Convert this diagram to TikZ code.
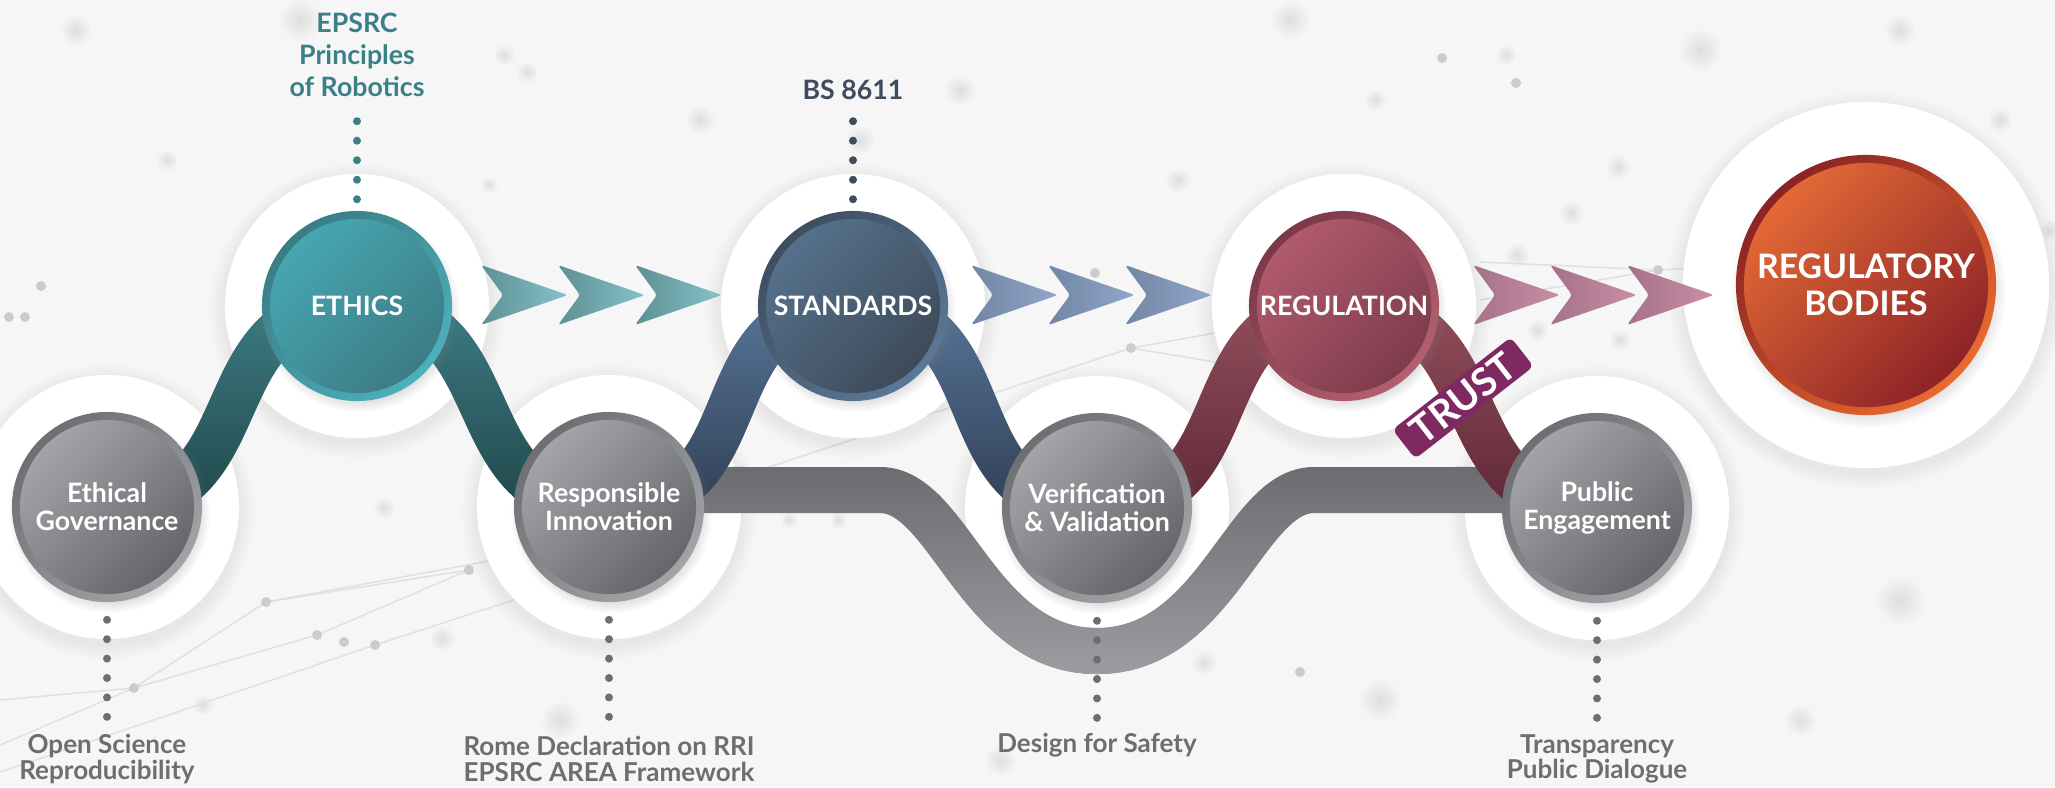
\documentclass[tikz,border=0pt]{standalone}
\usepackage{fontspec}
\setmainfont{Lato}
\usetikzlibrary{backgrounds,shadows,fadings}

\definecolor{bgCol}{HTML}{F6F6F7}
\definecolor{grayRimA}{HTML}{6E6F72}
\definecolor{grayRimB}{HTML}{A3A4A7}
\definecolor{grayA}{HTML}{A6A7AA}
\definecolor{grayB}{HTML}{626366}
\definecolor{tealRimA}{HTML}{3A7C84}
\definecolor{tealRimB}{HTML}{4DB0BB}
\definecolor{tealA}{HTML}{47A8B3}
\definecolor{tealB}{HTML}{3C7A83}
\definecolor{slateRimA}{HTML}{3D4E60}
\definecolor{slateRimB}{HTML}{5B7897}
\definecolor{slateA}{HTML}{57728E}
\definecolor{slateB}{HTML}{3C4957}
\definecolor{roseRimA}{HTML}{7C3849}
\definecolor{roseRimB}{HTML}{B3606F}
\definecolor{roseA}{HTML}{B35C6D}
\definecolor{roseB}{HTML}{7B3A4C}
\definecolor{rustRimA}{HTML}{8A2325}
\definecolor{rustRimB}{HTML}{EA6A2F}
\definecolor{rustA}{HTML}{E66B37}
\definecolor{rustB}{HTML}{8A2126}
\definecolor{grayBand}{HTML}{6C6D70}
\definecolor{grayBandLight}{HTML}{9C9DA0}
\definecolor{tealRib}{HTML}{1F4447}
\definecolor{tealRibLight}{HTML}{3F8087}
\definecolor{slateRib}{HTML}{2D3B4F}
\definecolor{slateRibLight}{HTML}{5A799D}
\definecolor{roseRib}{HTML}{5B2535}
\definecolor{roseRibLight}{HTML}{96525F}
\definecolor{tealChevA}{HTML}{5E8F93}
\definecolor{tealChevB}{HTML}{84C4CA}
\definecolor{slateChevA}{HTML}{7086A3}
\definecolor{slateChevB}{HTML}{93A6CA}
\definecolor{roseChevA}{HTML}{A4718A}
\definecolor{roseChevB}{HTML}{CA90A5}
\definecolor{trustCol}{HTML}{7E2961}
\definecolor{tealText}{HTML}{3B8088}
\definecolor{slateText}{HTML}{3E4C5C}
\definecolor{grayText}{HTML}{6D6E71}

\tikzfading[name=fade_down, top color=transparent!0, bottom color=transparent!100]
\tikzfading[name=fade_up, top color=transparent!100, bottom color=transparent!0]

\begin{document}
\begin{tikzpicture}[x=0.01cm, y=-0.01cm,
  disc/.style n args={5}{circle, minimum size=1.9cm, inner sep=0pt, align=center, text=white,
    font=\bfseries\fontsize{7.6}{8}\selectfont,
    circular drop shadow={shadow xshift=0.02cm, shadow yshift=-0.05cm, shadow scale=1.06, opacity=0.3},
    top color=#1, bottom color=#2, shading angle=45,
    path picture={\shade[top color=#3, bottom color=#4, shading angle=45]
      (path picture bounding box.center) circle (#5);}},
  gray_node/.style={disc={grayRimA}{grayRimB}{grayA}{grayB}{0.87cm}},
  ethics_node/.style={disc={tealRimA}{tealRimB}{tealA}{tealB}{0.87cm}},
  standards_node/.style={disc={slateRimA}{slateRimB}{slateA}{slateB}{0.87cm}},
  regulation_node/.style={disc={roseRimA}{roseRimB}{roseA}{roseB}{0.87cm}},
  bodies_node/.style={disc={rustRimA}{rustRimB}{rustA}{rustB}{1.22cm}, minimum size=2.6cm,
    font=\bfseries\fontsize{9.6}{10.5}\selectfont},
  top_lbl/.style={align=center, inner sep=0pt, font=\bfseries\fontsize{7.6}{9.1}\selectfont},
  bot_lbl/.style={align=center, inner sep=0pt, text=grayText, font=\bfseries\fontsize{7.4}{7.3}\selectfont},
  dot_line/.style={line width=0.08cm, line cap=round, dash pattern=on 0pt off 0.195cm},
  ribbon/.style={line width=0.46cm},
  net_line/.style={black!12, line width=0.015cm},
  trust_tag/.style={rectangle, rounded corners=0.06cm, fill=trustCol, text=white, rotate=38,
    minimum width=1.5cm, minimum height=0.37cm, inner sep=0pt,
    font=\bfseries\fontsize{11}{11}\selectfont}]

  \useasboundingbox (0,0) rectangle (2055,787);

  % the circles
  \node[gray_node] (eg) at (107,507) {Ethical\\Governance};
  \node[ethics_node] (ethics) at (357,306) {ETHICS};
  \node[gray_node] (ri) at (609,507) {Responsible\\Innovation};
  \node[standards_node] (standards) at (853,306) {STANDARDS};
  \node[gray_node] (vv) at (1097,508) {Verification\\\& Validation};
  \node[regulation_node] (regulation) at (1344,306) {REGULATION};
  \node[gray_node] (pe) at (1597,508) {Public\\Engagement};
  \node[bodies_node] (rb) at (1866,285) {REGULATORY\\BODIES};

  \begin{scope}[on background layer]
    \fill[bgCol] (0,0) rectangle (2055,787);
    % blurred background dots
    \foreach \bx/\by/\br in {76/30/16, 167/160/11, 504/55/11, 527/72/11, 489/185/9, 1376/100/11,
        1178/180/13, 1506/55/11, 1375/100/11, 1571/213/13, 1517/255/13, 1618/167/13, 1537/330/11,
        1620/340/11, 2050/230/11, 960/90/16, 1290/20/20, 300/20/22, 700/120/15, 860/140/15,
        1700/50/22, 1900/30/16, 2000/120/13, 384/508/11, 203/705/11, 442/638/13, 789/520/9,
        838/520/9, 1204/663/13, 1700/560/22, 1900/600/26, 1380/700/22, 1800/720/16, 560/720/20,
        1000/760/16, 1060/550/12}
      \shade[inner color=black!13, outer color=bgCol] (\bx,\by) circle[radius=0.01cm*\br];
    % network lines
    \draw[net_line] (0,745) -- (134,688) -- (317,635) -- (469,570);
    \draw[net_line] (0,700) -- (134,688) -- (266,602) -- (469,570);
    \draw[net_line] (0,772) -- (375,645) -- (560,585);
    \draw[net_line] (266,602) -- (560,548);
    \draw[net_line] (760,470) -- (1131,348) -- (1215,333);
    \draw[net_line] (1131,348) -- (1215,362);
    \draw[net_line] (1480,262) -- (1658,270) -- (1790,262);
    \draw[net_line] (1480,300) -- (1658,270);
    \foreach \bx/\by in {134/688, 317/635, 344/642, 375/645, 266/602, 469/570, 1131/348,
        1658/270, 41/286, 9/317, 25/317, 1442/58, 1516/83, 1095/273, 1300/672}
      \fill[black!20] (\bx,\by) circle[radius=0.05cm];
    % white halos
    \foreach \n/\r in {eg/1.32, ethics/1.32, ri/1.32, standards/1.32, vv/1.32,
        regulation/1.32, pe/1.32, rb/1.83}{
      \foreach \k in {1,...,5}
        \fill[black, opacity=0.012] ([yshift=-0.05cm]\n.center) circle[radius=\r*1cm+\k*0.03cm];
      \fill[white] (\n.center) circle[radius=\r*1cm];
    }
    % gray band
    \draw[ribbon, grayBand, postaction={draw, grayBandLight, path fading=fade_up}]
      ([yshift=0.17cm]ri.center) -- (880,490)
      .. controls +(70,0) and +(-120,0) .. (1097,651)
      .. controls +(120,0) and +(-70,0) .. (1314,490) -- ([yshift=0.18cm]pe.center);
    % coloured ribbons
    \draw[ribbon, tealRib, postaction={draw, tealRibLight, path fading=fade_down}]
      (eg.center) .. controls +(160,0) and +(-160,0) .. (ethics.center)
      .. controls +(160,0) and +(-160,0) .. (ri.center);
    \draw[ribbon, slateRib, postaction={draw, slateRibLight, path fading=fade_down}]
      (ri.center) .. controls +(160,0) and +(-160,0) .. (standards.center)
      .. controls +(160,0) and +(-160,0) .. (vv.center);
    \draw[ribbon, roseRib, postaction={draw, roseRibLight, path fading=fade_down}]
      (vv.center) .. controls +(160,0) and +(-160,0) .. (regulation.center)
      .. controls +(160,0) and +(-160,0) .. (pe.center);
  \end{scope}

  % chevrons
  \foreach \sx/\ca/\cb in {481/tealChevA/tealChevB, 971/slateChevA/slateChevB, 1473/roseChevA/roseChevB}
    \foreach \k in {0,1,2}
      \shade[left color=\ca, right color=\cb, rounded corners=0.03cm]
        (\sx+77*\k,265) -- (\sx+77*\k+87,295) -- (\sx+77*\k,325) -- (\sx+77*\k+22,295) -- cycle;

  \node[trust_tag] (trust) at (1463,398) {TRUST};

  % labels
  \node[top_lbl, text=tealText] (ethics_lbl) at (357,55) {EPSRC\\Principles\\of Robotics};
  \node[top_lbl, text=slateText] (standards_lbl) at (853,90) {BS 8611};
  \node[bot_lbl] (eg_lbl) at (107,759) {Open Science\\Reproducibility};
  \node[bot_lbl] (ri_lbl) at (609,759) {Rome Declaration on RRI\\EPSRC AREA Framework};
  \node[bot_lbl] (vv_lbl) at (1097,745) {Design for Safety};
  \node[bot_lbl] (pe_lbl) at (1597,759) {Transparency\\Public Dialogue};

  \draw[dot_line, tealText, shorten <=0.11cm, shorten >=0.1cm] (ethics) -- (ethics_lbl);
  \draw[dot_line, slateText, shorten <=0.11cm, shorten >=0.1cm] (standards) -- (standards_lbl);
  \draw[dot_line, grayText, dash pattern=on 0pt off 0.194cm, shorten <=0.17cm, shorten >=0.1cm] (eg) -- (eg_lbl);
  \draw[dot_line, grayText, dash pattern=on 0pt off 0.194cm, shorten <=0.17cm, shorten >=0.1cm] (ri) -- (ri_lbl);
  \draw[dot_line, grayText, dash pattern=on 0pt off 0.194cm, shorten <=0.17cm, shorten >=0.1cm] (vv) -- (vv_lbl);
  \draw[dot_line, grayText, dash pattern=on 0pt off 0.194cm, shorten <=0.17cm, shorten >=0.1cm] (pe) -- (pe_lbl);

\end{tikzpicture}
\end{document}
